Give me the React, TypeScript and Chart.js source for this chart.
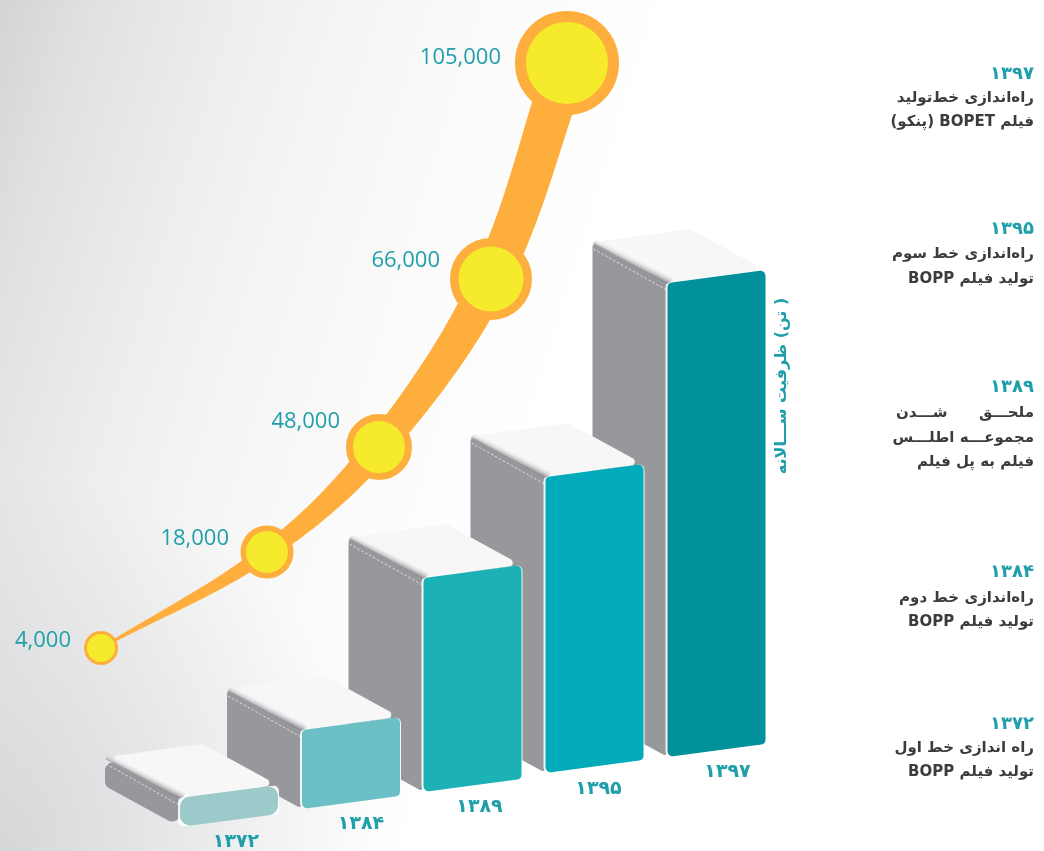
import React, { useEffect, useRef } from "react";
import { Chart, registerables } from "chart.js";

Chart.register(...registerables);

const years = ["۱۳۷۲", "۱۳۸۴", "۱۳۸۹", "۱۳۹۵", "۱۳۹۷"];
const capacityLabels = ["4,000", "18,000", "48,000", "66,000", "105,000"];
const curveX = [101, 267, 379, 491, 567];
const curveY = [203, 299, 404, 572, 788];
const barX = [229, 351, 472.5, 594.5, 716.5];
const barBase = [24, 42, 59, 78, 94];
const barTop = [53, 121, 273, 374, 568];
const barColors = ["#9ccaca", "#6bc0c6", "#1cb1b5", "#02abb9", "#01919b"];
const ribbonWidths = [2, 16, 28, 38, 43];
const pointOuter = [17, 26.5, 33, 41, 52];
const pointInner = [14, 21, 26, 32.5, 41];
const labelOffsetX = [30, 38, 39, 51, 66];
const labelOffsetY = [-7, -13, -25, -18, -5];
const yearLabelDX = [7, 10, 7, 4, 11];
const yearLabelDY = [14, 14, 14, 15, 14];
const axisTitle = "( تن) ظرفیت ســـالانه";
const notes = [
  { y: 72, year: "۱۳۹۷", lines: [[96, "راه‌اندازی خط‌تولید"], [120, "فیلم BOPET (پنکو) "]] },
  { y: 227, year: "۱۳۹۵", lines: [[252, "راه‌اندازی خط سوم"], [277, "تولید فیلم BOPP"]] },
  { y: 385, year: "۱۳۸۹", lines: [[411, "ملحـــق      شـــدن"], [436, "مجموعـــه اطلـــس"], [460, "فیلم به پل فیلم"]] },
  { y: 570, year: "۱۳۸۴", lines: [[596, "راه‌اندازی خط دوم"], [620, "تولید فیلم BOPP"]] },
  { y: 722, year: "۱۳۷۲", lines: [[746, "راه اندازی خط اول"], [770, "تولید فیلم BOPP"]] },
];

const TEAL = "#1f9faa";
const ORANGE = "#fdae3d";
const YELLOW = "#f5ea2b";
const GRAY = "#97989c";
const TOPFACE = "#f7f7f8";
const DEPTH_X = 75;
const DEPTH_Y = 41;
const SKEW = 13;
const W = 1044;
const H = 851;
// Chart.js pads the plot area by the end points' overflow, so the scales span exactly that area.
const PAD = Math.max(
  ...[0, pointOuter.length - 1].map((i) => (pointOuter[i] + pointInner[i]) / 2 + (pointOuter[i] - pointInner[i]))
);

function roundedPoly(ctx: CanvasRenderingContext2D, pts: number[][], r: number) {
  ctx.beginPath();
  const n = pts.length;
  const a0 = pts[n - 1], b0 = pts[0];
  ctx.moveTo((a0[0] + b0[0]) / 2, (a0[1] + b0[1]) / 2);
  for (let i = 0; i < n; i++) {
    const p = pts[i], q = pts[(i + 1) % n];
    ctx.arcTo(p[0], p[1], (p[0] + q[0]) / 2, (p[1] + q[1]) / 2, r);
  }
  ctx.closePath();
}

const backgroundPlugin = {
  id: "paper",
  beforeDraw(chart: any) {
    const { ctx, width, height } = chart;
    ctx.save();
    const g = ctx.createLinearGradient(0, 0, 620, 190);
    g.addColorStop(0, "#d3d4d6");
    g.addColorStop(0.13, "#e0e0e2");
    g.addColorStop(0.24, "#e7e7e8");
    g.addColorStop(0.36, "#eeeeee");
    g.addColorStop(0.5, "#f4f4f4");
    g.addColorStop(0.7, "#fafafa");
    g.addColorStop(1, "#ffffff");
    ctx.fillStyle = g;
    ctx.fillRect(0, 0, width, height);
    const c = ctx.createRadialGradient(0, 851, 0, 0, 851, 380);
    c.addColorStop(0, "rgba(200,202,205,0.65)");
    c.addColorStop(1, "rgba(200,202,205,0)");
    ctx.fillStyle = c;
    ctx.fillRect(0, 0, width, height);
    ctx.restore();
  },
};

const boxPlugin = {
  id: "boxes",
  beforeDatasetsDraw(chart: any) {
    const { ctx } = chart;
    const meta = chart.getDatasetMeta(0);
    ctx.save();
    for (let i = meta.data.length - 1; i >= 0; i--) {
      const el: any = meta.data[i];
      const { x, y, base, width } = el.getProps(["x", "y", "base", "width"], true);
      const l = x - width / 2;
      const r = x + width / 2;
      // y/base are the front-left corners; the right edge rises by SKEW
      const tl = [l, y], tr = [r, y - SKEW], br = [r, base - SKEW], bl = [l, base];
      const btl = [l - DEPTH_X, y - DEPTH_Y];
      const btr = [r - DEPTH_X, y - SKEW - DEPTH_Y];
      const bbl = [l - DEPTH_X, base - DEPTH_Y];
      const low = base - y < 40;
      const radius = low ? 8 : 3;

      // side face
      ctx.fillStyle = GRAY;
      roundedPoly(ctx, [btl, [l, y], [l, base], bbl], radius);
      ctx.fill();

      // top face
      ctx.fillStyle = TOPFACE;
      roundedPoly(ctx, [btl, btr, tr, tl], 4);
      ctx.fill();

      // shaded ridge between top and side
      const gx = (btl[0] + tl[0]) / 2, gy = (btl[1] + tl[1]) / 2;
      const g = ctx.createLinearGradient(gx, gy + 2, gx + 4, gy - 6);
      g.addColorStop(0, "#8f9094");
      g.addColorStop(1, "rgba(247,247,248,0)");
      ctx.fillStyle = g;
      ctx.beginPath();
      ctx.moveTo(btl[0], btl[1] + 2);
      ctx.lineTo(tl[0] + 1, tl[1] + 2);
      ctx.lineTo(tl[0] + 6, tl[1] - 5);
      ctx.lineTo(btl[0] + 6, btl[1] - 5);
      ctx.closePath();
      ctx.fill();

      // stitched line on the side
      ctx.strokeStyle = "rgba(255,255,255,0.85)";
      ctx.lineWidth = 0.8;
      ctx.setLineDash([2.5, 2]);
      ctx.beginPath();
      ctx.moveTo(btl[0] + 1, btl[1] + 7);
      ctx.lineTo(tl[0] - 1, tl[1] + 7);
      ctx.stroke();
      ctx.setLineDash([]);

      // front face with a white rim that shows against the grey sides
      ctx.fillStyle = "rgba(255,255,255,0.9)";
      roundedPoly(ctx, [[l - 2, y], [r + 1, y - SKEW], [r + 1, base - SKEW], [l - 2, base]], 5);
      ctx.fill();
      ctx.fillStyle = barColors[i];
      roundedPoly(ctx, [tl, tr, br, bl], radius + 2);
      ctx.fill();

      // year under the box
      ctx.fillStyle = TEAL;
      ctx.font = "bold 19px 'DejaVu Sans'";
      ctx.textAlign = "center";
      ctx.textBaseline = "middle";
      ctx.direction = "rtl";
      ctx.fillText(years[i], x + yearLabelDX[i], base + yearLabelDY[i] + 1);
      ctx.direction = "ltr";
    }
    ctx.restore();
  },
};

const ribbonPlugin = {
  id: "ribbon",
  beforeDatasetsDraw(chart: any) {
    const { ctx } = chart;
    const pts = chart.getDatasetMeta(1).data;
    const samples: { x: number; y: number; w: number }[] = [];
    for (let i = 0; i < pts.length - 1; i++) {
      const a = pts[i], b = pts[i + 1];
      for (let k = 0; k < 24; k++) {
        const t = k / 24, u = 1 - t;
        samples.push({
          x: u * u * u * a.x + 3 * u * u * t * a.cp2x + 3 * u * t * t * b.cp1x + t * t * t * b.x,
          y: u * u * u * a.y + 3 * u * u * t * a.cp2y + 3 * u * t * t * b.cp1y + t * t * t * b.y,
          w: ribbonWidths[i] + (ribbonWidths[i + 1] - ribbonWidths[i]) * t,
        });
      }
    }
    const last = pts[pts.length - 1];
    samples.push({ x: last.x, y: last.y, w: ribbonWidths[pts.length - 1] });
    const left: number[][] = [], right: number[][] = [];
    samples.forEach((s, i) => {
      const p = samples[Math.max(0, i - 1)], q = samples[Math.min(samples.length - 1, i + 1)];
      const dx = q.x - p.x, dy = q.y - p.y, len = Math.hypot(dx, dy) || 1;
      const nx = -dy / len, ny = dx / len;
      left.push([s.x + (nx * s.w) / 2, s.y + (ny * s.w) / 2]);
      right.push([s.x - (nx * s.w) / 2, s.y - (ny * s.w) / 2]);
    });
    ctx.save();
    ctx.fillStyle = ORANGE;
    ctx.beginPath();
    left.forEach((p, i) => (i ? ctx.lineTo(p[0], p[1]) : ctx.moveTo(p[0], p[1])));
    right.reverse().forEach((p) => ctx.lineTo(p[0], p[1]));
    ctx.closePath();
    ctx.fill();
    ctx.restore();
  },
};

const textPlugin = {
  id: "texts",
  afterDatasetsDraw(chart: any) {
    const { ctx } = chart;
    const pts = chart.getDatasetMeta(1).data;
    ctx.save();
    // capacity labels beside the points
    ctx.fillStyle = TEAL;
    ctx.font = "500 22px 'Open Sans'";
    ctx.textAlign = "right";
    ctx.textBaseline = "middle";
    pts.forEach((p: any, i: number) => {
      ctx.fillText(capacityLabels[i], p.x - labelOffsetX[i], p.y + labelOffsetY[i]);
    });

    // rotated axis title
    ctx.save();
    ctx.translate(782, 386);
    ctx.rotate(-Math.PI / 2);
    ctx.textAlign = "center";
    ctx.direction = "rtl";
    ctx.font = "bold 16px 'DejaVu Sans'";
    ctx.fillText(axisTitle, 0, 0);
    ctx.restore();

    // milestones on the right
    ctx.direction = "rtl";
    ctx.textAlign = "right";
    notes.forEach((n) => {
      ctx.fillStyle = TEAL;
      ctx.font = "bold 18px 'DejaVu Sans'";
      ctx.fillText(n.year, 1034, n.y + 2);
      ctx.fillStyle = "#3c3c3e";
      ctx.font = "bold 15px 'DejaVu Sans'";
      n.lines.forEach(([y, t]) => ctx.fillText(t as string, 1034, (y as number) + 2));
    });
    ctx.restore();
  },
};

export default function App() {
  const ref = useRef<HTMLCanvasElement>(null);
  useEffect(() => {
    document.body.style.margin = "0";
    const chart = new Chart(ref.current as HTMLCanvasElement, {
      type: "bar",
      data: {
        datasets: [
          {
            type: "bar",
            data: barX.map((x, i) => ({ x, y: [barBase[i], barTop[i]] })),
            backgroundColor: "rgba(0,0,0,0)",
            barThickness: 98,
            clip: false,
          },
          {
            type: "line",
            data: curveX.map((x, i) => ({ x, y: curveY[i] })),
            showLine: false,
            tension: 0.35,
            clip: false,
            borderColor: "rgba(0,0,0,0)",
            borderWidth: 0,
            pointRadius: pointOuter.map((o, i) => (o + pointInner[i]) / 2),
            pointBorderWidth: pointOuter.map((o, i) => o - pointInner[i]),
            pointBackgroundColor: YELLOW,
            pointBorderColor: ORANGE,
          },
        ],
      } as any,
      options: {
        responsive: false,
        animation: false,
        layout: { padding: 0 },
        scales: {
          x: { type: "linear", min: PAD, max: W - PAD, display: false, offset: false },
          y: { type: "linear", min: PAD, max: H - PAD, display: false },
        },
        plugins: { legend: { display: false }, tooltip: { enabled: false } },
      } as any,
      plugins: [backgroundPlugin, boxPlugin, ribbonPlugin, textPlugin],
    } as any);
    return () => chart.destroy();
  }, []);
  return <canvas ref={ref} width={W} height={H} style={{ display: "block" }} />;
}
